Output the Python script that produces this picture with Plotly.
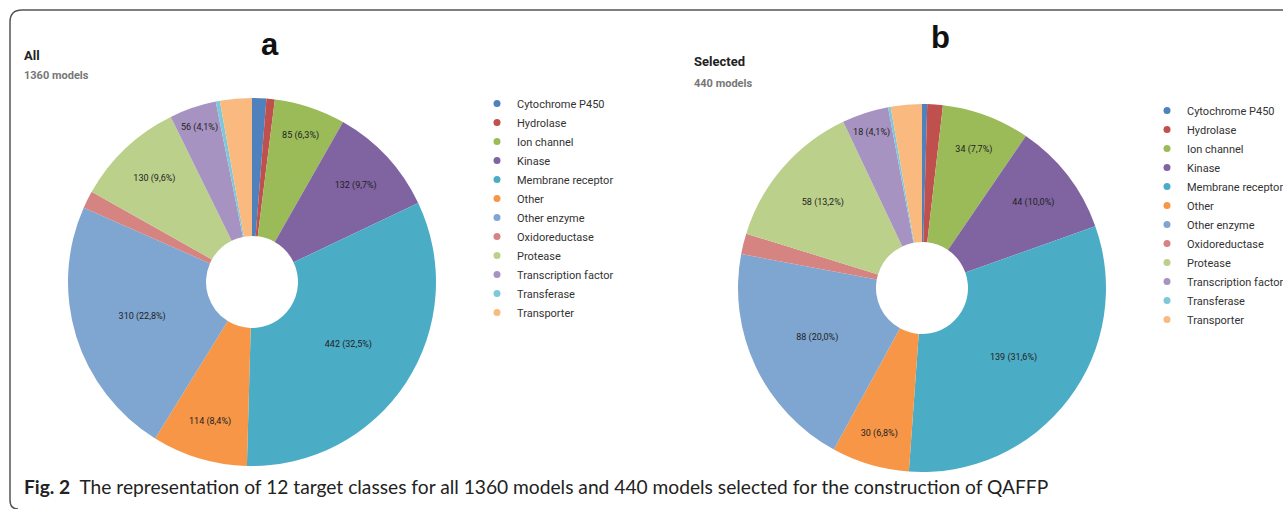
import plotly.graph_objects as go

W, H = 1283, 509

categories = ["Cytochrome P450", "Hydrolase", "Ion channel", "Kinase", "Membrane receptor",
              "Other", "Other enzyme", "Oxidoreductase", "Protease", "Transcription factor",
              "Transferase", "Transporter"]
values_all = [17, 10, 85, 132, 442, 114, 310, 21, 130, 56, 5, 38]
values_sel = [2, 6, 34, 44, 139, 30, 88, 8, 58, 18, 1, 12]
labels_all = ["", "", "85 (6,3%)", "132 (9,7%)", "442 (32,5%)", "114 (8,4%)", "310 (22,8%)",
              "", "130 (9,6%)", "56 (4,1%)", "", ""]
labels_sel = ["", "", "34 (7,7%)", "44 (10,0%)", "139 (31,6%)", "30 (6,8%)", "88 (20,0%)",
              "", "58 (13,2%)", "18 (4,1%)", "", ""]
colors = ["#4F81BD", "#C0504D", "#9BBB59", "#8064A2", "#4BACC6", "#F79646",
          "#7FA6D0", "#D68482", "#BBD18B", "#A793C1", "#7FC8DA", "#F9B97F"]


def px_x(x):
    return x / W


def px_y(y):
    return 1 - y / H


fig = go.Figure()

# Pie a
cxa, cya, r = 252, 282, 184
fig.add_trace(go.Pie(
    values=values_all, labels=categories, text=labels_all, textinfo="text",
    textposition="inside", insidetextorientation="horizontal",
    marker=dict(colors=colors, line=dict(width=0)), sort=False, direction="clockwise",
    rotation=0, hole=0.25, showlegend=False,
    textfont=dict(family="Roboto", size=9, color="#222"),
    domain=dict(x=[px_x(cxa - r), px_x(cxa + r)], y=[px_y(cya + r), px_y(cya - r)]),
))
# Pie b
cxb, cyb = 922, 288
fig.add_trace(go.Pie(
    values=values_sel, labels=categories, text=labels_sel, textinfo="text",
    textposition="inside", insidetextorientation="horizontal",
    marker=dict(colors=colors, line=dict(width=0)), sort=False, direction="clockwise",
    rotation=0, hole=0.25, showlegend=False,
    textfont=dict(family="Roboto", size=9, color="#222"),
    domain=dict(x=[px_x(cxb - r), px_x(cxb + r)], y=[px_y(cyb + r), px_y(cyb - r)]),
))

# legend entries (circle markers)
for lg in ["legend", "legend2"]:
    for name, c in zip(categories, colors):
        fig.add_trace(go.Scatter(x=[None], y=[None], mode="markers", name=name,
                                 marker=dict(color=c, size=7, symbol="circle"),
                                 legend=lg, showlegend=True, hoverinfo="skip"))

legend_common = dict(font=dict(family="Roboto", size=11, color="#333"),
                     bgcolor="rgba(0,0,0,0)", itemwidth=30, xanchor="left", yanchor="top",
                     tracegroupgap=0)

frame = (f"M {px_x(W+5)},{px_y(10)} L {px_x(22)},{px_y(10)} "
         f"Q {px_x(10)},{px_y(10)} {px_x(10)},{px_y(22)} "
         f"L {px_x(10)},{px_y(500)} Q {px_x(10)},{px_y(509)} {px_x(18)},{px_y(509)}")

fig.update_layout(
    width=W, height=H, margin=dict(l=0, r=0, t=0, b=0, autoexpand=False),
    paper_bgcolor="white", plot_bgcolor="white",
    xaxis=dict(visible=False), yaxis=dict(visible=False),
    legend=dict(x=px_x(477), y=px_y(89), **legend_common),
    legend2=dict(x=px_x(1147), y=px_y(96), **legend_common),
    shapes=[dict(type="path", path=frame, xref="paper", yref="paper",
                 line=dict(color="#555", width=1.5))],
    annotations=[
        dict(text="<b>a</b>", x=px_x(270), y=px_y(44), xref="paper", yref="paper",
             showarrow=False, font=dict(family="Liberation Sans", size=31, color="#111"),
             xanchor="center", yanchor="middle"),
        dict(text="<b>b</b>", x=px_x(940), y=px_y(37), xref="paper", yref="paper",
             showarrow=False, font=dict(family="Liberation Sans", size=31, color="#111"),
             xanchor="center", yanchor="middle"),
        dict(text="<b>All</b>", x=px_x(22), y=px_y(56), xref="paper", yref="paper",
             showarrow=False, font=dict(family="Roboto", size=13, color="#222"),
             xanchor="left", yanchor="middle"),
        dict(text="<b>1360 models</b>", x=px_x(22), y=px_y(76), xref="paper", yref="paper",
             showarrow=False, font=dict(family="Roboto", size=11, color="#777"),
             xanchor="left", yanchor="middle"),
        dict(text="<b>Selected</b>", x=px_x(692), y=px_y(62), xref="paper", yref="paper",
             showarrow=False, font=dict(family="Roboto", size=13, color="#222"),
             xanchor="left", yanchor="middle"),
        dict(text="<b>440 models</b>", x=px_x(692), y=px_y(83), xref="paper", yref="paper",
             showarrow=False, font=dict(family="Roboto", size=11, color="#777"),
             xanchor="left", yanchor="middle"),
        dict(text="<b>Fig. 2</b>  The representation of 12 target classes for all 1360 models and 440 models selected for the construction of QAFFP",
             x=px_x(22), y=px_y(486), xref="paper", yref="paper",
             showarrow=False, font=dict(family="Lato", size=19.2, color="#222"),
             xanchor="left", yanchor="middle"),
    ],
)

fig.write_html("out.html", config={"displayModeBar": False},
               post_script="document.body.style.margin='0';document.body.style.overflow='hidden';")
